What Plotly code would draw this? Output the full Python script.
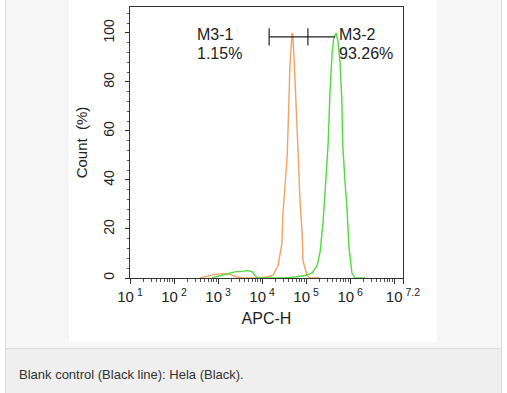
import plotly.graph_objects as go

# ---- data (APC-H as log10 exponents, count in %) ----
orange_log = [2.59, 2.77, 2.93, 3.09, 3.27, 3.41, 3.54, 3.73, 3.95, 4.13, 4.25, 4.36, 4.45, 4.47,
              4.52, 4.57, 4.61, 4.63, 4.68, 4.70, 4.75, 4.79, 4.82, 4.86, 4.91, 4.93, 5.02, 5.09, 5.32]
orange_cnt = [0, 0.8, 1.5, 1.8, 1.5, 0.5, 0.1, 0, 0, 0.5, 1.2, 5, 14, 25,
              39, 50, 73, 86, 100, 99, 80, 66, 50, 32, 18, 7, 1, 0, 0]

green_log = [2.86, 3.04, 3.23, 3.38, 3.54, 3.68, 3.77, 3.84, 3.91, 4.52, 4.75, 4.97, 5.13, 5.25,
             5.32, 5.38, 5.43, 5.50, 5.54, 5.59, 5.63, 5.68, 5.72, 5.77, 5.81, 5.83, 5.88, 5.93,
             5.97, 6.00, 6.04, 6.11, 6.34]
green_cnt = [0, 0.8, 1.8, 2.5, 2.7, 3.0, 2.6, 1, 0, 0, 0.4, 1, 2, 5,
             11, 22, 35, 55, 75, 92, 98, 100, 97, 88, 73, 55, 40, 28,
             13, 7, 2, 0, 0]

gate_log = [4.16, 5.04, 5.66]   # M3-1 start, M3-1/M3-2 split, M3-2 line end
gate_level = 98.4
gate_half = 3.5

x_tick_exp = [1, 2, 3, 4, 5, 6, 7, 7.2]
x_tick_lbl = ["10\u2009<sup>1</sup>", "10\u2009<sup>2</sup>", "10\u2009<sup>3</sup>",
              "10\u2009<sup>4</sup>", "10\u2009<sup>5</sup>", "10\u2009<sup>6</sup>", "",
              "10\u2009<sup>7.2</sup>"]
y_ticks = [0, 20, 40, 60, 80, 100]

gate_names = ["M3-1", "M3-2"]
gate_pcts = ["1.15%", "93.26%"]

caption = "Blank control (Black line): Hela (Black)."

FONT = "Liberation Sans, Arial, Helvetica, sans-serif"

fig = go.Figure()
fig.add_trace(go.Scatter(x=[10 ** v for v in orange_log], y=orange_cnt, mode="lines",
                         line=dict(color="#f2a262", width=1.4), showlegend=False))
fig.add_trace(go.Scatter(x=[10 ** v for v in green_log], y=green_cnt, mode="lines",
                         line=dict(color="#4fdc3c", width=1.4), showlegend=False))

gx = [10 ** gate_log[0], 10 ** gate_log[2], None,
      10 ** gate_log[0], 10 ** gate_log[0], None,
      10 ** gate_log[1], 10 ** gate_log[1]]
gy = [gate_level, gate_level, None,
      gate_level - gate_half, gate_level + gate_half, None,
      gate_level - gate_half, gate_level + gate_half]
fig.add_trace(go.Scatter(x=gx, y=gy, mode="lines", line=dict(color="#222", width=1.2),
                         showlegend=False))

# labels
lbl_x = [2.48, 5.70]
for i in range(2):
    fig.add_annotation(x=lbl_x[i], y=99.2, text=gate_names[i], showarrow=False,
                       xanchor="left", yanchor="middle", font=dict(size=16, color="#222"))
    fig.add_annotation(x=lbl_x[i], y=91.8, text=gate_pcts[i], showarrow=False,
                       xanchor="left", yanchor="middle", font=dict(size=16, color="#222"))

minor_vals = []
for d in range(1, 8):
    for k in range(2, 10):
        v = k * 10 ** d
        if v < 10 ** 7.2:
            minor_vals.append(v)

W, H = 507, 393
L, R, T, B = 130, 403, 7, 278
pw, ph = R - L, B - T


def px(x):
    return (x - L) / pw


def py(y):
    return (B - y) / ph


shapes = [
    dict(type="rect", xref="paper", yref="paper", x0=px(5.5), x1=px(501.5), y0=py(348.5), y1=py(-2),
         fillcolor="#f5f6f5", line=dict(color="#dcdcdc", width=1), layer="below"),
    dict(type="rect", xref="paper", yref="paper", x0=px(5.5), x1=px(501.5), y0=py(395), y1=py(348.5),
         fillcolor="#eeefee", line=dict(color="#dcdcdc", width=1), layer="below"),
    dict(type="rect", xref="paper", yref="paper", x0=px(69), x1=px(437), y0=py(342), y1=py(-2),
         fillcolor="white", line=dict(width=0), layer="below"),
]

fig.add_annotation(xref="paper", yref="paper", x=px(17), y=py(374), text=caption, showarrow=False,
                   xanchor="left", yanchor="middle", font=dict(size=13, color="#333"))

fig.update_layout(
    width=W, height=H,
    margin=dict(l=L, r=W - R, t=T, b=H - B),
    paper_bgcolor="white", plot_bgcolor="white",
    font=dict(family=FONT, color="#222"),
    shapes=shapes,
    xaxis=dict(type="log", range=[1, 7.2], tickvals=[10 ** v for v in x_tick_exp],
               ticktext=x_tick_lbl, ticks="outside", ticklen=5, tickcolor="#333",
               showline=True, linecolor="#333", linewidth=1, mirror=True, showgrid=False,
               zeroline=False, tickfont=dict(size=15, color="#222"),
               minor=dict(tickvals=minor_vals, ticks="outside", ticklen=3, tickcolor="#555",
                          showgrid=False),
               title=dict(text="APC-H", font=dict(size=16, color="#222"), standoff=8)),
    yaxis=dict(range=[0, 110.6], tickvals=y_ticks, ticks="outside", ticklen=4, tickcolor="#333",
               showline=True, linecolor="#333", linewidth=1, mirror=True, showgrid=False,
               zeroline=False, tickangle=-90, tickfont=dict(size=14, color="#222"),
               ticklabelstandoff=5,
               minor=dict(tick0=0, dtick=4, ticks="outside", ticklen=2.5, tickcolor="#555",
                          showgrid=False),
               title=dict(text="Count  (%)", font=dict(size=15, color="#222"), standoff=10)),
)

fig.write_html("out.html", config={"displayModeBar": False, "staticPlot": True},
               post_script="document.body.style.margin='0';document.body.style.overflow='hidden';")
